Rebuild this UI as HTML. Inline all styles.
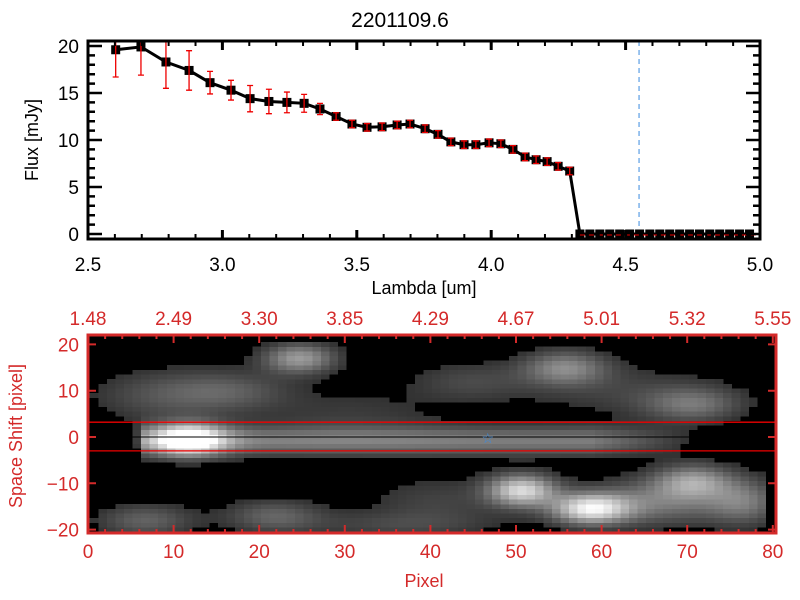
<!DOCTYPE html>
<html><head><meta charset="utf-8"><style>
html,body{margin:0;padding:0;background:#fff;}
svg{display:block;font-family:"Liberation Sans",sans-serif;}
</style></head><body>
<svg id="c" width="800" height="600" viewBox="0 0 800 600"></svg>
<script>
// ---- top panel data ----
const lambda = [2.603,2.697,2.790,2.876,2.954,3.032,3.103,3.173,3.240,3.304,3.363,3.423,3.482,3.538,3.594,3.650,3.698,3.754,3.802,3.850,3.899,3.943,3.992,4.036,4.081,4.126,4.167,4.208,4.249,4.292,4.330,4.367,4.404,4.441,4.478,4.515,4.552,4.590,4.627,4.664,4.701,4.738,4.775,4.813,4.850,4.887,4.924,4.961];
const flux = [19.6,19.9,18.3,17.4,16.1,15.3,14.4,14.1,14.0,13.9,13.3,12.5,11.7,11.35,11.4,11.6,11.7,11.2,10.6,9.8,9.5,9.5,9.7,9.6,9.0,8.2,7.9,7.7,7.2,6.7,0,0,0,0,0,0,0,0,0,0,0,0,0,0,0,0,0,0];
const fluxErr = [2.9,3.0,2.8,2.1,1.2,1.05,1.4,1.3,1.1,0.95,0.6,0.4,0.4,0.4,0.4,0.4,0.4,0.4,0.4,0.4,0.4,0.4,0.4,0.4,0.4,0.4,0.4,0.4,0.4,0.4,0,0,0,0,0,0,0,0,0,0,0,0,0,0,0,0,0,0];
const xTicks = [2.5,3.0,3.5,4.0,4.5,5.0];
const xTickLabels = ["2.5","3.0","3.5","4.0","4.5","5.0"];
const yTicks = [0,5,10,15,20];
const cutLambda = 4.55;
// ---- bottom panel data ----
const pixTicks = [0,10,20,30,40,50,60,70,80];
const topLabels = ["1.48","2.49","3.30","3.85","4.29","4.67","5.01","5.32","5.55"];
const shiftTicks = [20,10,0,-10,-20];
// blobs: [col, shift, amplitude, sigmaCol, sigmaShift]
const blobs = [[11,-0.5,0.95,3,2.4],[24,17,0.55,3,2.3],[55,15,0.45,3.5,2.6],[70,7,0.35,4,2.6],[50,-11.5,0.8,2.8,2.4],[58,-15.5,0.85,3.2,2.3],[70,-9.5,0.5,3.2,2.6],[6,-18,0.3,4,2.5],[21,-17,0.3,4,2.5],[8,9,0.22,6,4],[16,10,0.22,5,3],[44,12,0.18,5,3],[66,-14,0.38,6,3.5],[76,-14,0.35,3,3.5],[40,-14,0.16,6,4],[30,5,0.12,8,4],[62,10,0.15,8,4],[35,-19,0.15,8,2]];
// streak: [colStart, colEnd, shift, amplitude]
const streaks = [[6,58,-0.8,0.42]];

const svg=document.getElementById('c');const NS='http://www.w3.org/2000/svg';
function el(t,a,p){const e=document.createElementNS(NS,t);for(const k in a)e.setAttribute(k,a[k]);(p||svg).appendChild(e);return e;}
const TX0=88,TX1=760,TY0=41,TY1=239;
const xs=v=>TX0+(v-2.5)/2.5*(TX1-TX0);
const ys=v=>234-v*9.4;
const gTop=el('g',{});


const title=el('text',{x:400,y:27,'font-size':21,'text-anchor':'middle',fill:'#000'},gTop);title.textContent='2201109.6';


const cut=el('line',{x1:xs(cutLambda),x2:xs(cutLambda),y1:TY0,y2:TY1,stroke:'#3a8be0','stroke-width':1,'stroke-dasharray':'5,4'},gTop);


let d='';lambda.forEach((l,i)=>{d+=(i?'L':'M')+xs(l).toFixed(1)+','+ys(flux[i]).toFixed(1);});
const ln=el('path',{d:d,fill:'none',stroke:'#000','stroke-width':3},gTop);


lambda.forEach((l,i)=>{
  const x=xs(l),y=ys(flux[i]);
  const m=el('rect',{x:x-4.5,y:y-4.5,width:9,height:9,fill:'#000'},gTop);
  
  
  if(fluxErr[i]>0){
    const e1=ys(flux[i]+fluxErr[i]),e2=ys(flux[i]-fluxErr[i]);
    const eb=el('path',{d:`M${x},${Math.max(e1,TY0)}V${e2}M${x-3},${Math.max(e1,TY0)}h6M${x-3},${e2}h6`,stroke:'#e00',fill:'none','stroke-width':1.3},gTop);
    
    
  }
});
const zl=el('line',{x1:xs(4.33),x2:TX1,y1:ys(0)+1,y2:ys(0)+1,stroke:'#e00','stroke-width':1,'stroke-dasharray':'5,4'},gTop);


el('rect',{x:TX0,y:TY0,width:TX1-TX0,height:TY1-TY0,fill:'none',stroke:'#000','stroke-width':3},gTop);
for(let v=2.5;v<=5.001;v+=0.1){const x=xs(v);const maj=Math.abs(v*2-Math.round(v*2))<1e-6;const L=maj?9:5;
 el('path',{d:`M${x},${TY1}v${-L}M${x},${TY0}v${L}`,stroke:'#000','stroke-width':maj?3:2},gTop);}
for(let v=0;v<=20;v++){const y=ys(v);const maj=v%5==0;const L=maj?14:7;
 el('path',{d:`M${TX0},${y}h${L}M${TX1},${y}h${-L}`,stroke:'#000','stroke-width':2.5},gTop);}
xTicks.forEach((v,i)=>{const t=el('text',{x:xs(v),y:271,'font-size':19,'text-anchor':'middle'},gTop);t.textContent=xTickLabels[i];
 
 });
yTicks.forEach(v=>{const t=el('text',{x:79,y:ys(v)+7,'font-size':19,'text-anchor':'end'},gTop);t.textContent=v;
 
 });
const xt=el('text',{x:424,y:294,'font-size':18,'text-anchor':'middle'},gTop);xt.textContent='Lambda [um]';


const yt=el('text',{x:0,y:0,'font-size':18,'text-anchor':'middle',transform:'translate(38,140) rotate(-90)'},gTop);yt.textContent='Flux [mJy]';



// bottom panel
const BX0=88,BX1=776,BY0=335,BY1=533;
const px=v=>BX0+v*8.56;
const sy=v=>437-v*4.63;
const defs=el('defs',{});
const cp=el('clipPath',{id:'imgclip'},defs);
el('rect',{x:BX0,y:BY0,width:BX1-BX0,height:BY1-BY0},cp);
const gB=el('g',{});


el('rect',{x:BX0,y:BY0,width:BX1-BX0,height:BY1-BY0,fill:'#000'},gB);
const gI=el('g',{'shape-rendering':'crispEdges','clip-path':'url(#imgclip)'},gB);


for(let c=0;c<79;c++){for(let r=-21;r<=20;r++){
  let v=0;
  blobs.forEach(b=>{v+=b[2]*Math.exp(-((c-b[0])**2)/(2*b[3]*b[3])-((r-b[1])**2)/(2*b[4]*b[4]));});
  streaks.forEach(s=>{if(c>=s[0]&&c<=s[1]+14){const f=c<=s[1]?1:Math.max(0,1-(c-s[1])/14);v+=s[3]*f*Math.exp(-((r-s[2])**2)/(2*2.2*2.2));}});
  v=Math.min(1,v);
  if(v<0.09)continue;
  const g=Math.round(Math.min(255,30+v*225));
  const cell=el('rect',{x:px(c+0.2).toFixed(1),y:sy(r+0.5).toFixed(1),width:8.7,height:4.8,fill:`rgb(${g},${g},${g})`},gI);
  
  
}}
[3.2,-3].forEach(v=>{const l=el('line',{x1:BX0,x2:BX1,y1:sy(v),y2:sy(v),stroke:'#e00','stroke-width':1.3},gB);
 
 });
const cl=el('line',{x1:BX0,x2:BX1-8,y1:sy(0),y2:sy(0),stroke:'#000','stroke-width':1},gB);


const star=el('text',{x:px(46.7),y:sy(-1.3),'font-size':14,fill:'#3a8be0','text-anchor':'middle'},gB);star.textContent='☆';


el('rect',{x:BX0,y:BY0,width:BX1-BX0,height:BY1-BY0,fill:'none',stroke:'#d42a2a','stroke-width':3},gB);
for(let v=0;v<=80;v+=2){const x=px(v);const maj=v%10==0;const L=maj?8:4;
 el('path',{d:`M${x},${BY1}v${-L}M${x},${BY0}v${L}`,stroke:'#d42a2a','stroke-width':2},gB);}
shiftTicks.forEach(v=>{el('path',{d:`M${BX0},${sy(v)}h8M${BX1},${sy(v)}h-8`,stroke:'#d42a2a','stroke-width':2},gB);
 const t=el('text',{x:79,y:sy(v)+7,'font-size':19,'text-anchor':'end',fill:'#d42a2a'},gB);t.textContent=v<0?'−'+(-v):v;
 
 });
pixTicks.forEach((v,i)=>{
 const t=el('text',{x:px(v),y:558,'font-size':19,'text-anchor':'middle',fill:'#d42a2a'},gB);t.textContent=v;
 
 
 const t2=el('text',{x:px(v),y:325,'font-size':19,'text-anchor':'middle',fill:'#d42a2a'},gB);t2.textContent=topLabels[i];
 
 });
const bx=el('text',{x:424,y:587,'font-size':18,'text-anchor':'middle',fill:'#d42a2a'},gB);bx.textContent='Pixel';


const by=el('text',{x:0,y:0,'font-size':18,'text-anchor':'middle',fill:'#d42a2a',transform:'translate(22,436) rotate(-90)'},gB);by.textContent='Space Shift [pixel]';


</script>
</body></html>
